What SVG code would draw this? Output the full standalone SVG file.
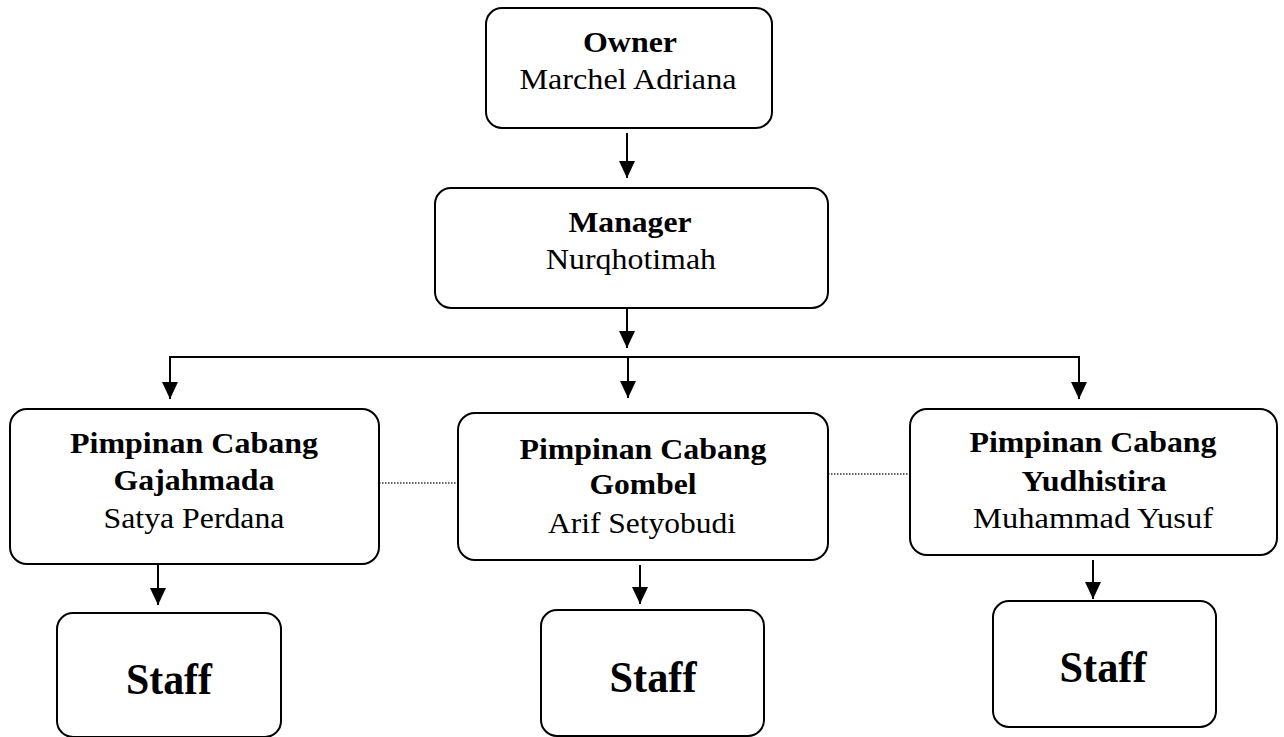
<svg xmlns="http://www.w3.org/2000/svg" width="1284" height="737" viewBox="0 0 1284 737">
<defs>
<style>
.box{fill:#fff;stroke:#000;stroke-width:2}
.t{font-family:"Liberation Serif","Times New Roman",serif;font-size:29px;text-anchor:middle;fill:#000}
.b{font-weight:bold}
.s{font-family:"Liberation Serif","Times New Roman",serif;font-size:44px;font-weight:bold;text-anchor:middle;fill:#000}
.ln{stroke:#000;stroke-width:2;fill:none}
.dot{stroke:#333;stroke-width:1.5;stroke-dasharray:1.5 1.5;fill:none}
</style>
<marker id="ah" markerUnits="userSpaceOnUse" markerWidth="18" markerHeight="16" refX="17" refY="8" orient="auto">
<path d="M0,0 L17,8 L0,16 Z" fill="#000"/>
</marker>
</defs>
<rect width="1284" height="737" fill="#fff"/>
<g id="connectors">
<line class="ln" x1="627" y1="133" x2="627" y2="178" marker-end="url(#ah)"/>
<line class="ln" x1="627" y1="308" x2="627" y2="348" marker-end="url(#ah)"/>
<line class="ln" x1="169" y1="357" x2="1080" y2="357"/>
<line class="ln" x1="628" y1="357" x2="628" y2="398" marker-end="url(#ah)"/>
<line class="ln" x1="170" y1="357" x2="170" y2="399" marker-end="url(#ah)"/>
<line class="ln" x1="1079" y1="357" x2="1079" y2="399" marker-end="url(#ah)"/>
<line class="ln" x1="158" y1="564" x2="158" y2="605" marker-end="url(#ah)"/>
<line class="ln" x1="640" y1="565" x2="640" y2="604" marker-end="url(#ah)"/>
<line class="ln" x1="1093" y1="560" x2="1093" y2="599" marker-end="url(#ah)"/>
<line class="dot" x1="379" y1="483" x2="458" y2="483"/>
<line class="dot" x1="828" y1="474" x2="910" y2="474"/>
</g>
<g id="owner">
<rect class="box" x="486" y="8" width="286" height="120" rx="16"/>
<text class="t b" x="630" y="52" textLength="94" lengthAdjust="spacingAndGlyphs">Owner</text>
<text class="t" x="628" y="89" textLength="217" lengthAdjust="spacingAndGlyphs">Marchel Adriana</text>
</g>
<g id="manager">
<rect class="box" x="435" y="188" width="393" height="120" rx="16"/>
<text class="t b" x="630" y="232" textLength="123" lengthAdjust="spacingAndGlyphs">Manager</text>
<text class="t" x="631" y="269" textLength="170" lengthAdjust="spacingAndGlyphs">Nurqhotimah</text>
</g>
<g id="cabang-gajahmada">
<rect class="box" x="10" y="409" width="369" height="155" rx="17"/>
<text class="t b" x="194" y="453" textLength="248" lengthAdjust="spacingAndGlyphs">Pimpinan Cabang</text>
<text class="t b" x="194" y="490" textLength="161" lengthAdjust="spacingAndGlyphs">Gajahmada</text>
<text class="t" x="194" y="528" textLength="181" lengthAdjust="spacingAndGlyphs">Satya Perdana</text>
</g>
<g id="cabang-gombel">
<rect class="box" x="458" y="413" width="370" height="147" rx="17"/>
<text class="t b" x="643" y="459" textLength="247" lengthAdjust="spacingAndGlyphs">Pimpinan Cabang</text>
<text class="t b" x="643" y="494" textLength="107" lengthAdjust="spacingAndGlyphs">Gombel</text>
<text class="t" x="642" y="533" textLength="188" lengthAdjust="spacingAndGlyphs">Arif Setyobudi</text>
</g>
<g id="cabang-yudhistira">
<rect class="box" x="910" y="409" width="367" height="146" rx="17"/>
<text class="t b" x="1093" y="452" textLength="247" lengthAdjust="spacingAndGlyphs">Pimpinan Cabang</text>
<text class="t b" x="1094" y="491" textLength="145" lengthAdjust="spacingAndGlyphs">Yudhistira</text>
<text class="t" x="1093" y="528" textLength="240" lengthAdjust="spacingAndGlyphs">Muhammad Yusuf</text>
</g>
<g id="staff-gajahmada">
<rect class="box" x="57" y="613" width="224" height="124" rx="16"/>
<text class="s" x="169" y="694" textLength="86" lengthAdjust="spacingAndGlyphs">Staff</text>
</g>
<g id="staff-gombel">
<rect class="box" x="541" y="610" width="223" height="126" rx="16"/>
<text class="s" x="653" y="692" textLength="87" lengthAdjust="spacingAndGlyphs">Staff</text>
</g>
<g id="staff-yudhistira">
<rect class="box" x="993" y="601" width="223" height="126" rx="16"/>
<text class="s" x="1103" y="682" textLength="87" lengthAdjust="spacingAndGlyphs">Staff</text>
</g>
</svg>
